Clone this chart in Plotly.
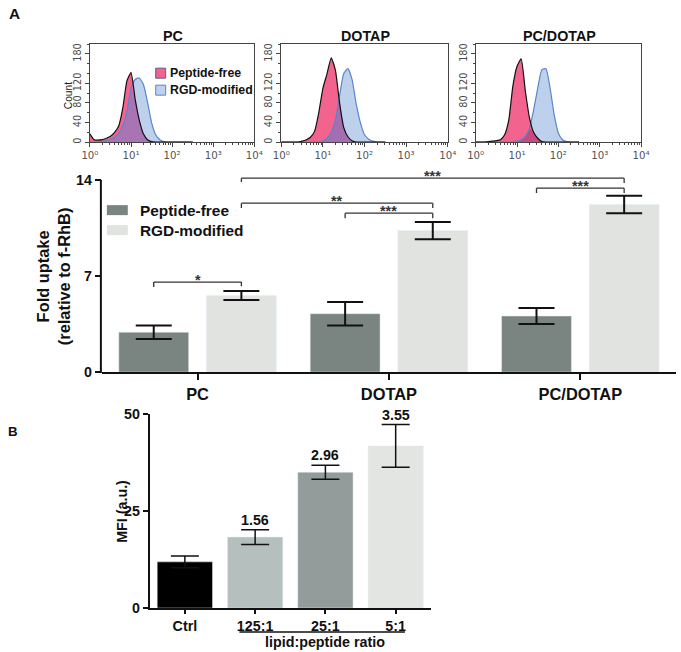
import plotly.graph_objects as go

# The page is captured with the browser's 8px body margin and shrunk by ~681/697,
# so reference pixels are mapped into figure pixels accordingly.
PAD = 8
SX, SY = 681 / 697, 652 / 668
W, H = 689, 660
def fx(v): return v / SX - PAD
def fy(v): return v / SY - PAD
def px(v): return fx(v) / W
def py(v): return 1 - fy(v) / H
def fs(s): return round(s / SX, 1)

# ---------------- DATA ----------------
# Flow cytometry histograms: log10(fluorescence) grid and cell counts
log_grid = [0.0, 0.1, 0.2, 0.3, 0.4, 0.5, 0.6, 0.7, 0.8, 0.9, 1.0, 1.1, 1.2,
            1.3, 1.4, 1.5, 1.6, 1.7, 1.8, 1.9, 2.0, 2.1, 2.2, 2.3, 2.4, 2.5]
pc_free = [17, 5, 4, 5, 8, 12, 20, 33, 70, 125, 142, 88, 45,
           17, 5, 1, 0, 0, 0, 0, 0, 0, 0, 0, 0, 0]
pc_rgd = [0, 0, 0, 1, 3, 6, 10, 18, 33, 62, 110, 128, 131,
          118, 82, 40, 15, 5, 1, 0, 0, 0, 0, 0, 0, 0]
dotap_free = [0, 0, 0, 0, 0, 2, 5, 10, 22, 60, 110, 140, 172,
              147, 80, 30, 11, 3, 0, 0, 0, 0, 0, 0, 0, 0]
dotap_rgd = [0, 0, 0, 0, 0, 0, 0, 0, 0, 0, 2, 8, 20,
             45, 95, 140, 150, 128, 78, 40, 15, 6, 2, 0, 0, 0]
pcdotap_free = [0, 0, 0, 1, 2, 3, 5, 15, 45, 115, 155, 170, 105,
                50, 20, 8, 1, 0, 0, 0, 0, 0, 0, 0, 0, 0]
pcdotap_rgd = [0, 0, 0, 0, 0, 0, 0, 0, 0, 1, 2, 5, 12,
               28, 65, 110, 148, 150, 110, 55, 18, 5, 1, 0, 0, 0]
hist_titles = ["PC", "DOTAP", "PC/DOTAP"]
hist_xtick_vals = [1, 10, 100, 1000, 10000]
hist_xtick_text = ["10\u2070", "10\u00b9", "10\u00b2", "10\u00b3", "10\u2074"]
hist_ytick_vals = [0, 40, 80, 120, 180]

# Fold uptake bar chart (A, bottom)
formulations = ["PC", "DOTAP", "PC/DOTAP"]
uptake_free = [2.9, 4.25, 4.08]
uptake_free_err = [0.5, 0.85, 0.58]
uptake_rgd = [5.58, 10.3, 12.2]
uptake_rgd_err = [0.33, 0.63, 0.63]
series_names = ["Peptide-free", "RGD-modified"]

# significance brackets: (from group, side, to group, side, level, drop_left, drop_right, label)
sig_brackets = [
    (0, -1, 0, 1, 6.55, 6.19, 6.25, "*"),
    (0, 1, 1, 1, 12.3, 11.94, 11.94, "**"),
    (1, -1, 1, 1, 11.57, 11.2, 11.2, "***"),
    (0, 1, 2, 1, 14.12, 13.83, 13.76, "***"),
    (2, -1, 2, 1, 13.39, 13.03, 13.03, "***"),
]

# MFI bar chart (B)
ratios = ["Ctrl", "125:1", "25:1", "5:1"]
mfi = [11.9, 18.3, 35.0, 41.8]
mfi_err = [1.5, 1.9, 1.8, 5.5]
fold_labels = ["", "1.56", "2.96", "3.55"]

# ---------------- STYLE ----------------
PINK = "#f2638e"
BLUE_FILL = "#bdd0ec"
BLUE_LINE = "#5b85cc"
OVERLAP = ["#a874b4", "#a46eb0", "#c8487f"]
DARK = "#7a8480"
LIGHT = "#e1e3e1"
B_COLORS = ["#000000", "#b5bfbd", "#939c9a", "#e3e5e3"]
SANS = "Liberation Sans, Arial, sans-serif"
NARROW = "Liberation Sans, Arial, sans-serif"
TICKF = "DejaVu Sans, Verdana, sans-serif"

fig = go.Figure()

# ---------------- Histograms ----------------
hist_sets = [(pc_free, pc_rgd), (dotap_free, dotap_rgd), (pcdotap_free, pcdotap_rgd)]
hist_xdom = [(89, 254), (281, 448), (476, 642)]
hist_ydom = [py(142), py(44)]
minor_x = [m * 10 ** d for d in range(4) for m in range(2, 10)]
xs = [10 ** v for v in log_grid]
spl = dict(shape="spline", smoothing=0.5)

for i, (free, rgd) in enumerate(hist_sets):
    n = i + 1
    xa, ya = f"x{n}", f"y{n}"
    overlap = [min(a, b) for a, b in zip(free, rgd)]
    common = dict(x=xs, mode="lines", xaxis=xa, yaxis=ya, showlegend=False, hoverinfo="skip")
    fig.add_trace(go.Scatter(y=rgd, fill="tozeroy", fillcolor=BLUE_FILL, line=dict(width=0, **spl), **common))
    fig.add_trace(go.Scatter(y=free, fill="tozeroy", fillcolor=PINK, line=dict(width=0, **spl), **common))
    fig.add_trace(go.Scatter(y=overlap, fill="tozeroy", fillcolor=OVERLAP[i], line=dict(width=0, **spl), **common))
    fig.add_trace(go.Scatter(y=rgd, line=dict(color=BLUE_LINE, width=1.2, **spl), **common))
    fig.add_trace(go.Scatter(y=free, line=dict(color="#111111", width=1.2, **spl), **common))

    fig.update_layout(**{
        f"xaxis{n}": dict(domain=[px(hist_xdom[i][0]), px(hist_xdom[i][1])], anchor=ya, type="log",
                          range=[0, 4], showline=True, mirror=True, linecolor="#444", linewidth=1,
                          ticks="outside", ticklen=4, tickcolor="#444", tickvals=hist_xtick_vals,
                          ticktext=hist_xtick_text, tickfont=dict(family=TICKF, size=fs(10), color="#555"),
                          minor=dict(ticks="outside", ticklen=2, tickcolor="#444", tickvals=minor_x),
                          showgrid=False, zeroline=False, fixedrange=True),
        f"yaxis{n}": dict(domain=hist_ydom, anchor=xa, range=[0, 200], showline=True, mirror=True,
                          linecolor="#444", linewidth=1, ticks="outside", ticklen=4, tickcolor="#444",
                          tickvals=hist_ytick_vals, tickangle=-90,
                          tickfont=dict(family=TICKF, size=fs(9.5), color="#4a4a4a"),
                          minor=dict(ticks="outside", ticklen=2, tickcolor="#444", dtick=20),
                          showgrid=False, zeroline=False, fixedrange=True),
    })

# ---------------- Bar chart A ----------------
bw = 0.365
half = 0.229
fig.add_trace(go.Bar(x=formulations, y=uptake_free, name=series_names[0], marker_color=DARK,
                     width=bw, offset=-half - bw / 2, xaxis="x4", yaxis="y4", showlegend=False,
                     error_y=dict(type="data", array=uptake_free_err, color="#111", thickness=2, width=18)))
fig.add_trace(go.Bar(x=formulations, y=uptake_rgd, name=series_names[1], marker_color=LIGHT,
                     width=bw, offset=half - bw / 2, xaxis="x4", yaxis="y4", showlegend=False,
                     error_y=dict(type="data", array=uptake_rgd_err, color="#111", thickness=2, width=18)))

A_YMAX = 14.6
a_ydom = [py(372), py(171.4)]
fig.update_layout(
    xaxis4=dict(domain=[px(101), px(677)], anchor="y4", type="category", range=[-0.5, 2.5],
                showline=True, linecolor="#111", linewidth=2, ticks="outside", ticklen=6, tickwidth=2,
                tickcolor="#111", tickfont=dict(family=SANS, size=fs(16), color="#111", weight="bold"),
                showgrid=False, zeroline=False, fixedrange=True),
    yaxis4=dict(domain=a_ydom, anchor="x4", range=[0, A_YMAX], tickvals=[0, 7, 14], ticks="outside",
                ticklen=6, tickwidth=2, tickcolor="#111", showline=False, showgrid=False, zeroline=False,
                tickfont=dict(family=SANS, size=fs(14), color="#111", weight="bold"), fixedrange=True),
)

shapes = []
annotations = []

def note(x, y, text, xref="paper", yref="paper", xanchor="center", yanchor="middle", **kw):
    d = dict(x=x, y=y, xref=xref, yref=yref, text=text, showarrow=False,
             xanchor=xanchor, yanchor=yanchor)
    d.update(kw)
    annotations.append(d)

# y-axis line of chart A (up to the 14 tick)
shapes.append(dict(type="line", xref="paper", yref="paper", x0=px(100), x1=px(100),
                   y0=a_ydom[0] - 1 / H, y1=a_ydom[0] + 14 / A_YMAX * (a_ydom[1] - a_ydom[0]),
                   line=dict(color="#111", width=2)))

for g0, s0, g1, s1, lvl, d0, d1, lab in sig_brackets:
    xa0 = g0 + s0 * half
    xa1 = g1 + s1 * half
    for (xx0, yy0, xx1, yy1) in [(xa0, d0, xa0, lvl), (xa0, lvl, xa1, lvl), (xa1, lvl, xa1, d1)]:
        shapes.append(dict(type="line", xref="x4", yref="y4", x0=xx0, y0=yy0, x1=xx1, y1=yy1,
                           line=dict(color="#333", width=1.3)))
    note((xa0 + xa1) / 2, lvl, lab, xref="x4", yref="y4", yshift=2,
         font=dict(family=SANS, size=fs(14), color="#333", weight="bold"))

# legend of chart A
for k, (nm, col) in enumerate(zip(series_names, [DARK, LIGHT])):
    yc = 210 + 20 * k
    shapes.append(dict(type="rect", xref="paper", yref="paper", x0=px(106), x1=px(127),
                       y0=py(yc + 5), y1=py(yc - 5), fillcolor=col, line=dict(width=0)))
    note(px(137), py(yc), nm, xanchor="left",
         font=dict(family=SANS, size=fs(15), color="#111", weight="bold"))

note(px(52), py(276), "Fold uptake<br>(relative to f-RhB)", textangle=-90,
     font=dict(family=SANS, size=fs(16), color="#111", weight="bold"))

# ---------------- Bar chart B ----------------
fig.add_trace(go.Bar(x=ratios, y=mfi, marker_color=B_COLORS, width=0.787, xaxis="x5", yaxis="y5",
                     showlegend=False,
                     error_y=dict(type="data", array=mfi_err, color="#111", thickness=1.5, width=14)))
fig.update_layout(
    xaxis5=dict(domain=[px(149), px(431)], anchor="y5", type="category", range=[-0.5, 3.5],
                showline=True, linecolor="#111", linewidth=2, ticks="outside", ticklen=4, tickwidth=2,
                tickcolor="#111", tickfont=dict(family=NARROW, size=fs(14), color="#111", weight="bold"),
                showgrid=False, zeroline=False, fixedrange=True),
    yaxis5=dict(domain=[py(608), py(414)], anchor="x5", range=[0, 50], tickvals=[0, 25, 50],
                showline=True, linecolor="#111", linewidth=2, ticks="outside", ticklen=5, tickwidth=2,
                tickcolor="#111", tickfont=dict(family=NARROW, size=fs(14), color="#111", weight="bold"),
                showgrid=False, zeroline=False, fixedrange=True),
)
for r, v, e, t in zip(ratios, mfi, mfi_err, fold_labels):
    if t:
        note(r, v + e, t, xref="x5", yref="y5", yanchor="bottom",
             font=dict(family=NARROW, size=fs(14), color="#111", weight="bold"))
shapes.append(dict(type="line", xref="paper", yref="paper", x0=px(239), x1=px(405), y0=py(632), y1=py(632),
                   line=dict(color="#111", width=1.5)))
note(px(325), py(642), "lipid:peptide ratio",
     font=dict(family=NARROW, size=fs(14), color="#111", weight="bold"))
note(px(121), py(511), "MFI (a.u.)", textangle=-90,
     font=dict(family=NARROW, size=fs(14), color="#111", weight="bold"))

# ---------------- Histogram decorations ----------------
for t, xc in zip(hist_titles, [172, 365, 560]):
    note(px(xc), py(36), t, font=dict(family=SANS, size=fs(14), color="#111", weight="bold"))
note(px(67), py(95), "Count", textangle=-90, font=dict(family=SANS, size=fs(10), color="#222"))
for k, (nm, fc, lc) in enumerate(zip(series_names, [PINK, BLUE_FILL], ["#5a5f8a", BLUE_LINE])):
    yc = 73 + 17 * k
    shapes.append(dict(type="rect", xref="paper", yref="paper", x0=px(155), x1=px(165),
                       y0=py(yc + 5), y1=py(yc - 5), fillcolor=fc, line=dict(color=lc, width=1)))
    note(px(167), py(yc), nm, xanchor="left",
         font=dict(family=SANS, size=fs(12), color="#111", weight="bold"))

# panel letters
note(px(13), py(13), "A", font=dict(family=SANS, size=fs(15), color="#111", weight="bold"))
note(px(12), py(431), "B", font=dict(family=NARROW, size=fs(13), color="#111", weight="bold"))

fig.update_layout(
    width=W, height=H, margin=dict(l=0, r=0, t=0, b=0),
    paper_bgcolor="white", plot_bgcolor="white",
    barmode="overlay", shapes=shapes, annotations=annotations,
    showlegend=False,
)

fig.write_html("out.html")
